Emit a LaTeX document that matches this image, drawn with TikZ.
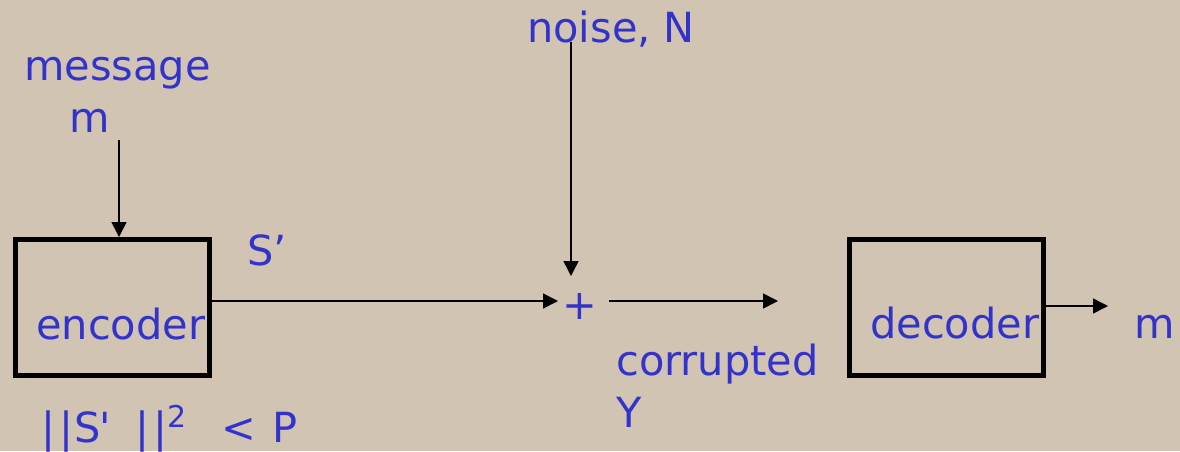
\documentclass[tikz,border=0pt]{standalone}
\usepackage{fontspec}
\setmainfont{DejaVu Sans}
\usetikzlibrary{arrows.meta}
\definecolor{bgtan}{RGB}{209,196,179}
\definecolor{txtblue}{RGB}{51,51,204}
\begin{document}
\begin{tikzpicture}[x=1pt,y=-1pt,
  lbl/.style={text=txtblue,font=\fontsize{41.5}{50}\selectfont,inner sep=0pt,anchor=base west},
  blockbox/.style={draw=black,line width=5pt,minimum width=194pt,minimum height=135.5pt,inner sep=0pt},
  arr/.style={line width=1.5pt,-{Triangle[length=15pt,width=15pt]}}]
\fill[bgtan] (0,0) rectangle (1180,451);
\useasboundingbox (0,0) rectangle (1180,451);
% blocks
\node[blockbox] (enc) at (112.5,307.25) {};
\node[blockbox] (dec) at (946.5,307.25) {};
% labels
\node[lbl] (msg) at (24,80) {message};
\node[lbl] (msgm) at (69,132) {m};
\node[lbl] (sprime) at (247,265) {S’};
\node[lbl] (enctext) at (36,339) {encoder};
\node[lbl] (power) at (41,442) {|\kern4pt|\kern1pt S\kern-1pt\textquotesingle\ \kern11pt|\kern4pt|\raisebox{15pt}{\fontsize{30}{36}\selectfont 2}\hspace{35pt}<\hspace{17pt}P};
\node[lbl] (noise) at (527,42) {noise, N};
\node[lbl,anchor=center] (plus) at (579.5,306) {+};
\node[lbl] (corr) at (616,375) {corrupted};
\node[lbl] (ylbl) at (616,427) {Y};
\node[lbl] (dectext) at (870,338) {decoder};
\node[lbl] (mout) at (1134,338) {m};
% connector coordinates
\coordinate (mtop) at (119,140);
\coordinate (ntop) at (571,42);
\coordinate (sumtop) at (571,276);
\coordinate (sumleft) at (558,301);
\coordinate (sumout) at (609,301);
\coordinate (chanend) at (778,301);
\coordinate (decend) at (1108,306);
% connectors
\draw[arr] (mtop) -- (mtop |- enc.north);
\draw[arr] (enc.east |- sumleft) -- (sumleft);
\draw[arr] (ntop) -- (sumtop);
\draw[arr] (sumout) -- (chanend);
\draw[arr] (dec.east |- decend) -- (decend);
\end{tikzpicture}
\end{document}
